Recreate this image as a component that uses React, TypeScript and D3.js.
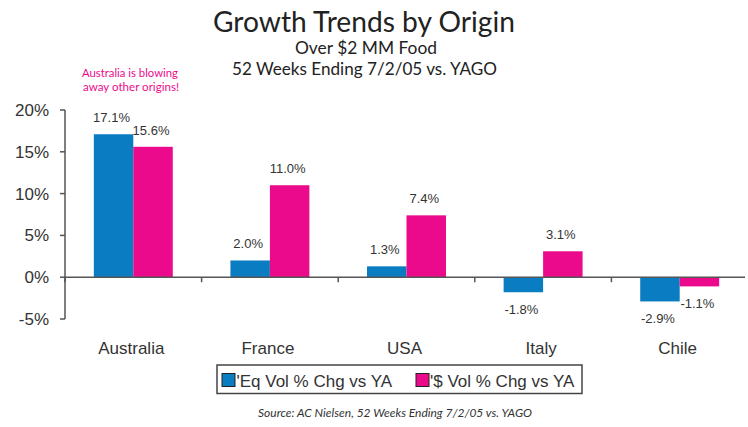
import React from "react";
import * as d3 from "d3";

const categories = ["Australia", "France", "USA", "Italy", "Chile"];
const eqVol = [17.1, 2.0, 1.3, -1.8, -2.9];
const dollarVol = [15.6, 11.0, 7.4, 3.1, -1.1];
const seriesNames = ["'Eq Vol % Chg vs YA", "'$ Vol % Chg vs YA"];
const yTicks = [-5, 0, 5, 10, 15, 20];

const BLUE = "#0a7dc2";
const PINK = "#ec0a8c";
const AXIS = "#555";
const TEXT = "#333";
const ARIAL = "'Liberation Sans', Arial, sans-serif";
const MYRIAD = "Lato, 'Open Sans', sans-serif";

export default function App() {
  const W = 748;
  const H = 427;
  const x = d3.scaleBand<string>().domain(categories).range([65, 748]).paddingInner(0).paddingOuter(0);
  const y = d3.scaleLinear().domain([-5, 20]).range([319, 110]);
  const bw = x.bandwidth() * 0.289;
  const series = [eqVol, dollarVol];
  const colors = [BLUE, PINK];
  const fmt = (v: number) => v.toFixed(1) + "%";

  return (
    <svg width={W} height={H} style={{ position: "absolute", left: 0, top: 0, background: "#fff" }}>
      <text x={364} y={32} textAnchor="middle" fontFamily={MYRIAD} fontSize={29} fill="#222" textLength={302} lengthAdjust="spacingAndGlyphs">Growth Trends by Origin</text>
      <text x={366} y={54} textAnchor="middle" fontFamily={MYRIAD} fontSize={17.5} fill="#222" textLength={142} lengthAdjust="spacingAndGlyphs">Over $2 MM Food</text>
      <text x={364.5} y={75} textAnchor="middle" fontFamily={MYRIAD} fontSize={17.5} fill="#222" textLength={265} lengthAdjust="spacingAndGlyphs">52 Weeks Ending 7/2/05 vs. YAGO</text>
      <text x={130} y={77} textAnchor="middle" fontFamily={MYRIAD} fontSize={12} fill={PINK} textLength={96} lengthAdjust="spacingAndGlyphs">Australia is blowing</text>
      <text x={131} y={91} textAnchor="middle" fontFamily={MYRIAD} fontSize={12} fill={PINK} textLength={96} lengthAdjust="spacingAndGlyphs">away other origins!</text>

      {series.map((vals, si) =>
        categories.map((c, i) => {
          const v = vals[i];
          const cx = (x(c) as number) + x.bandwidth() / 2;
          const bx = cx - bw + si * bw;
          const y0 = y(0);
          const yv = y(v);
          return (
            <g key={`${si}-${c}`}>
              <rect x={bx} y={Math.min(y0, yv)} width={bw} height={Math.abs(yv - y0)} fill={colors[si]} />
              <text
                x={bx + bw / 2 - 2}
                y={v >= 0 ? yv - 12 : yv + 22}
                textAnchor="middle"
                fontFamily={ARIAL}
                fontSize={13}
                fill={TEXT}
              >
                {fmt(v)}
              </text>
            </g>
          );
        })
      )}

      {/* y axis */}
      <line x1={65} x2={65} y1={y(20)} y2={y(-5)} stroke={AXIS} strokeWidth={1.5} />
      {yTicks.map((t) => (
        <g key={t}>
          <line x1={60} x2={65} y1={y(t)} y2={y(t)} stroke={AXIS} strokeWidth={1.5} />
          <text x={49} y={y(t) + 6} textAnchor="end" fontFamily={ARIAL} fontSize={17} fill={TEXT}>
            {t + "%"}
          </text>
        </g>
      ))}

      {/* x axis at zero */}
      <line x1={65} x2={745} y1={y(0)} y2={y(0)} stroke={AXIS} strokeWidth={1.5} />
      {categories.map((c, i) => (
        <line key={"tk" + c} x1={(x(c) as number)} x2={(x(c) as number)} y1={y(0)} y2={y(0) + 5} stroke={AXIS} strokeWidth={1.5} />
      ))}
      {categories.map((c) => (
        <text key={"lb" + c} x={(x(c) as number) + x.bandwidth() / 2 - 2} y={354} textAnchor="middle" fontFamily={ARIAL} fontSize={17} fill={TEXT}>
          {c}
        </text>
      ))}

      {/* legend */}
      <rect x={217} y={365} width={365} height={28.5} fill="#fff" stroke="#444" strokeWidth={1.5} />
      <rect x={222} y={373.5} width={13} height={13} fill={BLUE} stroke="#222" strokeWidth={1} />
      <text x={236.5} y={386.5} fontFamily={ARIAL} fontSize={17} fill={TEXT}>{seriesNames[0]}</text>
      <rect x={416} y={373.5} width={13} height={13} fill={PINK} stroke="#222" strokeWidth={1} />
      <text x={430} y={386.5} fontFamily={ARIAL} fontSize={17} fill={TEXT}>{seriesNames[1]}</text>

      <text x={395} y={417} textAnchor="middle" fontFamily={MYRIAD} fontStyle="italic" fontSize={11} fill={TEXT} textLength={274} lengthAdjust="spacingAndGlyphs">
        Source:  AC Nielsen, 52 Weeks Ending 7/2/05 vs. YAGO
      </text>
    </svg>
  );
}
